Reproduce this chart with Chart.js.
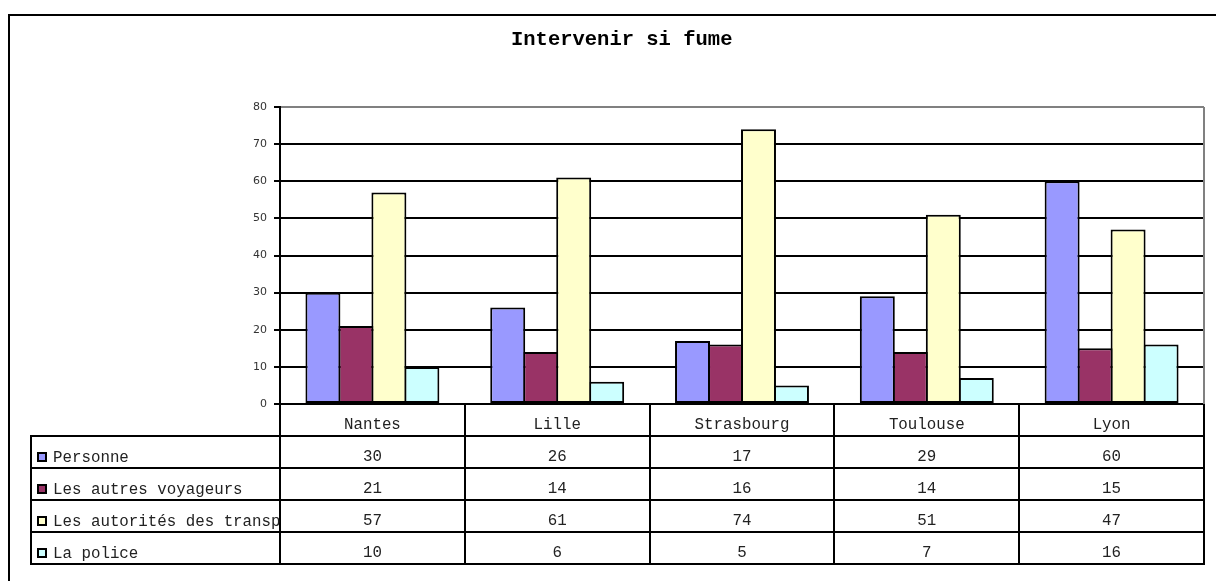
<!DOCTYPE html>
<html>
<head>
<meta charset="utf-8">
<script src="https://cdn.jsdelivr.net/npm/chart.js@4.4.1/dist/chart.umd.min.js"></script>
<style>
  html, body { margin: 0; padding: 0; background: #ffffff; }
  canvas { display: block; }
</style>
</head>
<body>
<canvas id="c" width="1216" height="581"></canvas>
<script>
const titleText = "Intervenir si fume";
const categories = ["Nantes", "Lille", "Strasbourg", "Toulouse", "Lyon"];
const seriesNames = ["Personne", "Les autres voyageurs", "Les autorités des transports", "La police"];
const personne = [30, 26, 17, 29, 60];
const autresVoyageurs = [21, 14, 16, 14, 15];
const autorites = [57, 61, 74, 51, 47];
const police = [10, 6, 5, 7, 16];
const seriesColors = ["#9999FF", "#993366", "#FFFFCC", "#CCFFFF"];
const yTicks = [0, 10, 20, 30, 40, 50, 60, 70, 80];

const seriesValues = [personne, autresVoyageurs, autorites, police];
const MONO = '"Courier New", "Liberation Mono", "DejaVu Sans Mono", monospace';

const tablePlugin = {
  id: 'tablePlugin',
  afterDraw(chart) {
    const ctx = chart.ctx;
    const area = chart.chartArea;
    const n = categories.length;
    const colW = area.width / n;
    const headTop = area.bottom;
    const headH = 32;
    const rowH = 32;
    const tableLeft = 31;
    const rowsTop = headTop + headH;
    const tableBottom = rowsTop + rowH * seriesNames.length;

    ctx.save();
    // outer frame
    ctx.strokeStyle = '#000';
    ctx.lineWidth = 2;
    ctx.strokeRect(9, 15, 1240, 620);

    // plot right border (gray)
    ctx.strokeStyle = '#808080';
    ctx.beginPath();
    ctx.moveTo(area.right, area.top);
    ctx.lineTo(area.right, area.bottom);
    ctx.stroke();

    // title (clipped like the original frame)
    ctx.save();
    ctx.beginPath();
    ctx.rect(0, 0, 733, 100);
    ctx.clip();
    ctx.fillStyle = '#000';
    ctx.font = 'bold 20.5px ' + MONO;
    ctx.textAlign = 'left';
    ctx.textBaseline = 'alphabetic';
    ctx.fillText(titleText, 511, 45);
    ctx.restore();

    // table lines
    ctx.strokeStyle = '#000';
    ctx.lineWidth = 2;
    ctx.beginPath();
    for (let i = 0; i <= n; i++) {
      const x = Math.round(area.left + i * colW);
      ctx.moveTo(x, headTop);
      ctx.lineTo(x, tableBottom);
    }
    ctx.moveTo(tableLeft, rowsTop);
    ctx.lineTo(tableLeft, tableBottom);
    for (let r = 0; r <= seriesNames.length; r++) {
      const y = rowsTop + r * rowH;
      ctx.moveTo(tableLeft - 1, y);
      ctx.lineTo(area.right + 1, y);
    }
    ctx.stroke();

    ctx.fillStyle = '#222';
    ctx.font = '15.8px ' + MONO;
    ctx.textAlign = 'center';
    ctx.textBaseline = 'alphabetic';
    // header
    for (let i = 0; i < n; i++) {
      ctx.fillText(categories[i], area.left + (i + 0.5) * colW, headTop + 25);
    }
    // values
    for (let r = 0; r < seriesNames.length; r++) {
      const yb = rowsTop + r * rowH + 25;
      for (let i = 0; i < n; i++) {
        ctx.fillText(String(seriesValues[r][i]), area.left + (i + 0.5) * colW, yb);
      }
    }
    // legend labels
    for (let r = 0; r < seriesNames.length; r++) {
      const yb = rowsTop + r * rowH + 26;
      ctx.fillStyle = '#000';
      ctx.fillRect(37, yb - 10, 10, 10);
      ctx.fillStyle = seriesColors[r];
      ctx.fillRect(39, yb - 8, 6, 6);
      ctx.save();
      ctx.beginPath();
      ctx.rect(tableLeft, rowsTop + r * rowH, area.left - tableLeft, rowH);
      ctx.clip();
      ctx.fillStyle = '#222';
      ctx.textAlign = 'left';
      ctx.fillText(seriesNames[r], 53, yb);
      ctx.restore();
    }
    ctx.restore();
  }
};

new Chart(document.getElementById('c'), {
  type: 'bar',
  data: {
    labels: categories,
    datasets: seriesNames.map((name, i) => ({
      label: name,
      data: seriesValues[i],
      backgroundColor: seriesColors[i],
      borderColor: '#000',
      borderWidth: 2,
      borderSkipped: false,
      barPercentage: 1.06,
      categoryPercentage: 0.714
    }))
  },
  options: {
    responsive: false,
    animation: false,
    devicePixelRatio: 1,
    layout: { padding: { top: 107, left: 0, right: 12, bottom: 0 } },
    plugins: {
      legend: { display: false },
      title: { display: false },
      tooltip: { enabled: false }
    },
    scales: {
      x: {
        ticks: { display: false },
        grid: { display: false },
        border: { display: true, color: '#000', width: 2 },
        afterFit(scale) { scale.height = 177; }
      },
      y: {
        min: 0,
        max: 80,
        afterBuildTicks(scale) { scale.ticks = yTicks.map(v => ({ value: v })); },
        ticks: {
          color: '#333',
          font: { family: '"DejaVu Sans", Verdana, sans-serif', size: 11 },
          padding: 7
        },
        grid: {
          color: (c) => (c.tick && c.tick.value === 80 ? '#808080' : '#000'),
          lineWidth: 2,
          tickLength: 6,
          tickColor: '#000',
          drawTicks: true
        },
        border: { display: true, color: '#000', width: 2 },
        afterFit(scale) { scale.width = 280; }
      }
    }
  },
  plugins: [tablePlugin]
});
</script>
</body>
</html>
